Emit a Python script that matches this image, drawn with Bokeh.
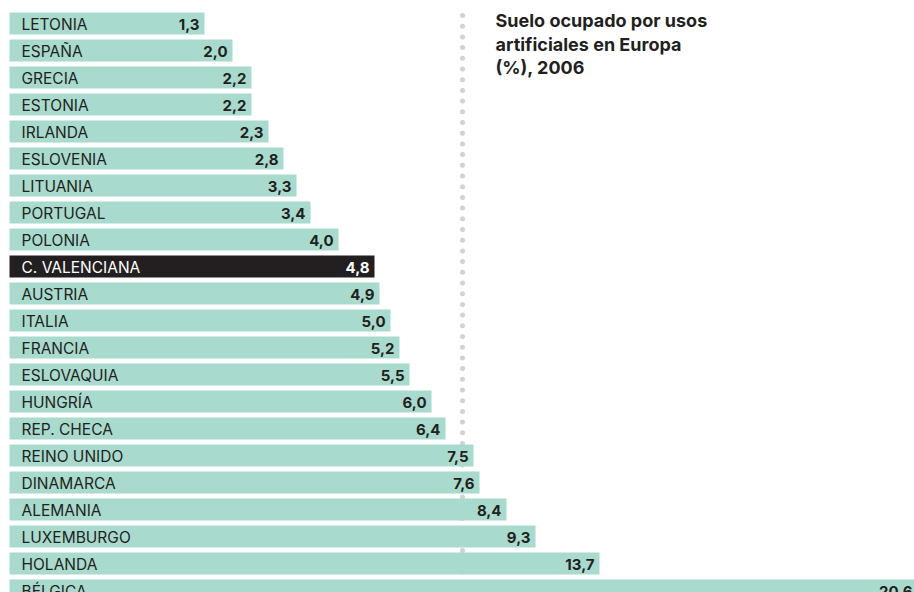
import numpy as np
from bokeh.plotting import figure
from bokeh.models import Range1d, ColumnDataSource
from bokeh.core.properties import value
from bokeh.embed import file_html
from bokeh.resources import INLINE

# ---- data ----
countries = ["LETONIA", "ESPAÑA", "GRECIA", "ESTONIA", "IRLANDA", "ESLOVENIA",
             "LITUANIA", "PORTUGAL", "POLONIA", "C. VALENCIANA", "AUSTRIA",
             "ITALIA", "FRANCIA", "ESLOVAQUIA", "HUNGRÍA", "REP. CHECA",
             "REINO UNIDO", "DINAMARCA", "ALEMANIA", "LUXEMBURGO", "HOLANDA",
             "BÉLGICA"]
values = [1.3, 2.0, 2.2, 2.2, 2.3, 2.8, 3.3, 3.4, 4.0, 4.8, 4.9, 5.0, 5.2,
          5.5, 6.0, 6.4, 7.5, 7.6, 8.4, 9.3, 13.7, 20.6]
value_labels = ["1,3", "2,0", "2,2", "2,2", "2,3", "2,8", "3,3", "3,4", "4,0",
                "4,8", "4,9", "5,0", "5,2", "5,5", "6,0", "6,4", "7,5", "7,6",
                "8,4", "9,3", "13,7", "20.6"]
# drawn bar lengths as they appear in the original (not proportional to values)
bar_extent = [195, 223, 242, 242, 259, 274, 287, 301, 329, 365, 370, 381, 390,
              400, 422, 436, 464, 470, 497, 526, 590, 908]
highlight = "C. VALENCIANA"
title_lines = ["Suelo ocupado por usos", "artificiales en Europa", "(%), 2006"]

MINT = "#a8dacd"
DARK = "#231f20"
FONT = "Inter"

n = len(countries)
rows = list(range(n))
fill = [DARK if c == highlight else MINT for c in countries]
txt_col = ["#ffffff" if c == highlight else DARK for c in countries]

src = ColumnDataSource(dict(y=rows, country=countries, val=values,
                            lab=value_labels, ext=bar_extent, fill=fill,
                            tc=txt_col))

W, H = 914, 592
ROW = 27.0   # px per row
C0 = 23.0    # px centre of first row
p = figure(width=W, height=H, output_backend="svg", toolbar_location=None,
           x_range=Range1d(-9, W - 9),
           y_range=Range1d((H - C0) / ROW, -C0 / ROW),
           min_border=0, outline_line_color=None)
p.axis.visible = False
p.grid.visible = False
p.background_fill_color = "white"
p.border_fill_color = "white"

# dotted reference line (behind bars)
dot_y = np.arange(-8.0 / ROW, (H - C0) / ROW, 10.7 / ROW)
p.scatter(x=np.full(len(dot_y), 453), y=dot_y, size=5, color="#d2d2d2",
          line_color=None)

p.hbar(y="y", left=0, right="ext", height=22 / ROW, fill_color="fill",
       line_color=None, source=src)

p.text(x=12, y="y", text="country", source=src, text_color="tc",
       text_font=value(FONT), text_font_size="15.5px",
       text_baseline="alphabetic", y_offset=1, text_align="left")

p.text(x="ext", y="y", text="lab", source=src, text_color="tc",
       text_font=value(FONT), text_font_size="15px",
       text_font_style="bold", text_baseline="alphabetic", y_offset=1,
       x_offset=-5, text_align="right")

title_y = [-3.0 / ROW, 20.5 / ROW, 44.0 / ROW]
p.text(x=[486] * 3, y=title_y, text=title_lines, text_color=DARK,
       text_font=value(FONT), text_font_size="18px",
       text_font_style="bold", text_baseline="alphabetic", text_align="left")

open("out.html", "w").write(file_html(p, INLINE))
